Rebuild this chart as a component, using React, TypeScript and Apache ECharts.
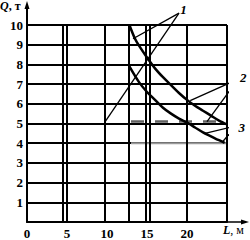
import React, { useEffect, useRef } from "react";
import * as echarts from "echarts";

// Axis ticks
const yTickValues = [0, 1, 2, 3, 4, 5, 6, 7, 8, 9, 10];
const xTickLabels = [0, 5, 10, 15, 20];
// Vertical grid lines (L, m)
const verticalLines = [4.45, 4.95, 9.75, 12.75, 14.8, 15.4, 20, 25];

// Curve 1 (upper)
const upperL = [12.8, 13.5, 14, 15, 16, 17, 18, 19, 20, 21, 22, 23, 24, 25];
const upperQ = [10, 9.3, 8.95, 8.35, 7.8, 7.35, 6.95, 6.55, 6.2, 5.9, 5.65, 5.4, 5.15, 4.95];
// Curve (lower)
const lowerL = [12.8, 14, 15, 16, 17, 18, 19, 20, 21, 22, 23, 24, 24.7];
const lowerQ = [7.9, 7.1, 6.6, 6.2, 5.8, 5.5, 5.25, 5.05, 4.8, 4.55, 4.35, 4.15, 4.02];
// Horizontal limit lines
const dashedL = [13, 25];
const dashedQ = [5.1, 5.1];
const grayL = [13, 25];
const grayQ = [4.0, 4.0];

// Leader annotations: anchor and target points in (L, Q)
const leaderNames = ["1", "2", "3"];
const leaderAnchors = [
  [19.0, 10.6],
  [26.4, 7.25],
  [26.1, 4.87],
];
const leaderTargets = [
  [[13.25, 9.3], [9.75, 5.08]],
  [[20.4, 6.16], [22.5, 5.1]],
  [[22.25, 4.5], [24.4, 4.05]],
];
const labelOffsets = [
  [4.5, -4],
  [5, -1.5],
  [6, 1],
];

const SERIF = "'Liberation Serif', 'DejaVu Serif', serif";

export default function App() {
  const ref = useRef<HTMLDivElement>(null);

  useEffect(() => {
    if (!ref.current) return;
    const chart = echarts.init(ref.current, null, { renderer: "svg" });

    const zip = (xs: number[], ys: number[]) => xs.map((x, i) => [x, ys[i]]);

    const leaderSeries: any[] = [];
    leaderTargets.forEach((targets, i) => {
      targets.forEach((t) => {
        leaderSeries.push({
          type: "line",
          data: [leaderAnchors[i], t],
          symbol: "none",
          clip: false,
          silent: true,
          lineStyle: { color: "#000", width: 1.3 },
        });
      });
    });

    const option: any = {
      animation: false,
      backgroundColor: "#fff",
      grid: { left: 27, right: 23, top: 25, bottom: 16, containLabel: false },
      xAxis: {
        type: "value",
        min: 0,
        max: 25,
        interval: 5,
        axisLine: { show: true, lineStyle: { color: "#000", width: 2 } },
        axisTick: { show: false },
        splitLine: { show: false },
        axisLabel: {
          margin: 5,
          color: "#000",
          fontFamily: SERIF,
          fontWeight: "bold",
          fontSize: 13,
          formatter: (v: number) => (xTickLabels.includes(v) ? String(v) : ""),
        },
      },
      yAxis: {
        type: "value",
        min: 0,
        max: 10,
        interval: 1,
        axisLine: { show: true, lineStyle: { color: "#000", width: 2 } },
        axisTick: { show: false },
        splitLine: { show: true, lineStyle: { color: "#000", width: 2 } },
        axisLabel: {
          margin: 4,
          color: "#000",
          fontFamily: SERIF,
          fontWeight: "bold",
          fontSize: 13,
          formatter: (v: number) => (yTickValues.includes(v) && v !== 0 ? String(v) : ""),
        },
      },
      series: [
        {
          type: "line",
          data: [],
          silent: true,
          markLine: {
            silent: true,
            symbol: "none",
            label: { show: false },
            lineStyle: { color: "#000", width: 2, type: "solid" },
            data: verticalLines.map((v) => ({ xAxis: v })),
          },
        },
        {
          type: "line",
          data: zip(grayL, grayQ),
          symbol: "none",
          silent: true,
          lineStyle: { color: "#9a9a9a", width: 2 },
        },
        {
          type: "line",
          data: zip(dashedL, dashedQ),
          symbol: "none",
          silent: true,
          lineStyle: { color: "#606060", width: 2.5, type: [13, 11] },
        },
        {
          type: "line",
          data: zip(upperL, upperQ),
          symbol: "none",
          smooth: 0.3,
          silent: true,
          lineStyle: { color: "#000", width: 2.5 },
        },
        {
          type: "line",
          data: zip(lowerL, lowerQ),
          symbol: "none",
          smooth: 0.3,
          silent: true,
          lineStyle: { color: "#000", width: 2.5 },
        },
        ...leaderSeries,
      ],
    };

    chart.setOption(option);

    const px = (x: number, y: number) => chart.convertToPixel({ gridIndex: 0 }, [x, y]) as number[];
    const origin = px(0, 0);
    const xEnd = px(25, 0);
    const yEnd = px(0, 10);

    const graphic: any[] = [
      {
        type: "line",
        shape: { x1: origin[0], y1: yEnd[1], x2: origin[0], y2: 6 },
        style: { stroke: "#000", lineWidth: 2 },
      },
      {
        type: "polygon",
        shape: { points: [[origin[0], 1], [origin[0] - 2.5, 9], [origin[0] + 2.5, 9]] },
        style: { fill: "#000" },
      },
      {
        type: "line",
        shape: { x1: xEnd[0], y1: origin[1], x2: 244, y2: origin[1] },
        style: { stroke: "#000", lineWidth: 1.5 },
      },
      {
        type: "polygon",
        shape: { points: [[249, origin[1]], [241, origin[1] - 2.5], [241, origin[1] + 2.5]] },
        style: { fill: "#000" },
      },
      {
        type: "text",
        left: 0,
        top: 0,
        style: {
          text: "{i|Q}{n|, т}",
          rich: {
            i: { fontFamily: SERIF, fontStyle: "italic", fontWeight: "bold", fontSize: 12, fill: "#000" },
            n: { fontFamily: SERIF, fontWeight: "bold", fontSize: 12, fill: "#000" },
          },
        },
      },
      {
        type: "text",
        left: 223,
        top: 224,
        style: {
          text: "{i|L}{n|, м}",
          rich: {
            i: { fontFamily: SERIF, fontStyle: "italic", fontWeight: "bold", fontSize: 12, fill: "#000" },
            n: { fontFamily: SERIF, fontSize: 12, fill: "#000" },
          },
        },
      },
    ];

    leaderNames.forEach((name, i) => {
      const a = px(leaderAnchors[i][0], leaderAnchors[i][1]);
      graphic.push({
        type: "text",
        x: a[0] + labelOffsets[i][0],
        y: a[1] + labelOffsets[i][1],
        style: {
          text: name,
          fontFamily: SERIF,
          fontStyle: "italic",
          fontWeight: "bold",
          fontSize: 13,
          fill: "#000",
          align: "center",
          verticalAlign: "middle",
        },
      });
    });

    chart.setOption({ graphic });

    return () => chart.dispose();
  }, []);

  return (
    <div
      ref={ref}
      style={{ position: "fixed", left: 0, top: 0, width: 250, height: 240, background: "#fff" }}
    />
  );
}
